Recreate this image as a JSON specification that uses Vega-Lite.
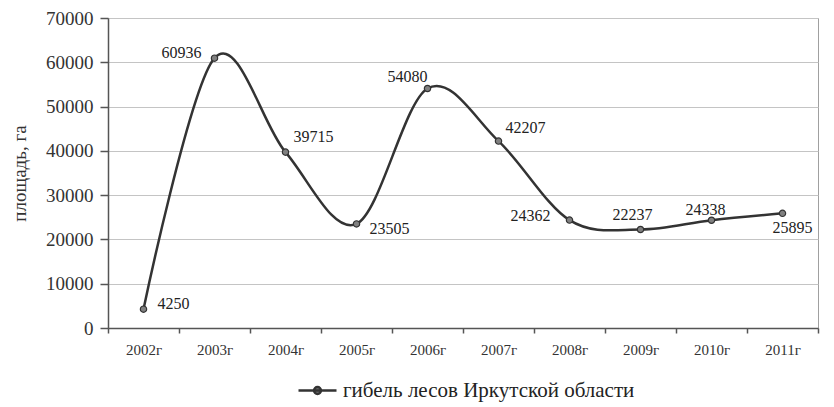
{
  "$schema": "https://vega.github.io/schema/vega-lite/v6.json",
  "width": 710,
  "height": 310,
  "autosize": "none",
  "padding": {"left": 108, "top": 18, "right": 16, "bottom": 79},
  "background": "white",
  "config": {
    "font": "Liberation Serif",
    "view": {"stroke": "#a0a0a0", "strokeWidth": 1}
  },
  "data": {
    "values": [
      {"year": "2002г", "v": 4250},
      {"year": "2003г", "v": 60936},
      {"year": "2004г", "v": 39715},
      {"year": "2005г", "v": 23505},
      {"year": "2006г", "v": 54080},
      {"year": "2007г", "v": 42207},
      {"year": "2008г", "v": 24362},
      {"year": "2009г", "v": 22237},
      {"year": "2010г", "v": 24338},
      {"year": "2011г", "v": 25895}
    ]
  },
  "encoding": {
    "x": {
      "field": "year",
      "type": "ordinal",
      "sort": null,
      "scale": {"type": "band", "paddingInner": 0, "paddingOuter": 0},
      "axis": {
        "title": null,
        "labelAngle": 0,
        "tickBand": "extent",
        "domainColor": "#555555",
        "domainWidth": 1.5,
        "tickColor": "#555555",
        "tickWidth": 1.5,
        "tickSize": 5,
        "labelPadding": 9,
        "labelFontSize": 15,
        "labelColor": "#333333",
        "grid": false
      }
    },
    "y": {
      "field": "v",
      "type": "quantitative",
      "scale": {"domain": [0, 70000]},
      "axis": {
        "title": "площадь, га",
        "titleFontSize": 19,
        "titleFontWeight": "normal",
        "titleColor": "#333333",
        "titlePadding": 16,
        "values": [0, 10000, 20000, 30000, 40000, 50000, 60000, 70000],
        "format": "d",
        "grid": true,
        "gridColor": "#c4c4c4",
        "domainColor": "#555555",
        "domainWidth": 1.5,
        "tickColor": "#555555",
        "tickWidth": 1.5,
        "tickSize": 8,
        "labelPadding": 7,
        "labelFontSize": 19,
        "labelColor": "#333333"
      }
    }
  },
  "layer": [
    {
      "mark": {"type": "line", "interpolate": "cardinal", "strokeWidth": 2.5},
      "encoding": {
        "color": {
          "datum": "гибель лесов Иркутской области",
          "scale": {"range": ["#333333"]},
          "legend": {
            "title": null,
            "orient": "none",
            "legendX": 189,
            "legendY": 352,
            "symbolType": "M-1,0L1,0M-0.18,0A0.18,0.18,0,1,1,0.18,0A0.18,0.18,0,1,1,-0.18,0Z",
            "symbolSize": 1444,
            "symbolStrokeWidth": 2.5,
            "symbolStrokeColor": "#333333",
            "symbolFillColor": "#777777",
            "labelFontSize": 21,
            "labelColor": "#222222",
            "labelOffset": 5,
            "labelLimit": 400,
            "padding": 0
          }
        }
      }
    },
    {
      "mark": {"type": "point", "filled": true, "fill": "#808080", "stroke": "#333333", "strokeWidth": 1.2, "size": 40, "opacity": 1}
    },
    {
      "transform": [{"filter": "datum.year == '2002г'"}],
      "mark": {"type": "text", "fontSize": 16, "color": "#222222", "align": "left", "baseline": "middle", "dx": 14, "dy": -5},
      "encoding": {"text": {"field": "v", "type": "quantitative", "format": "d"}}
    },
    {
      "transform": [{"filter": "datum.year == '2003г'"}],
      "mark": {"type": "text", "fontSize": 16, "color": "#222222", "align": "right", "baseline": "middle", "dx": -13, "dy": -5},
      "encoding": {"text": {"field": "v", "type": "quantitative", "format": "d"}}
    },
    {
      "transform": [{"filter": "datum.year == '2004г'"}],
      "mark": {"type": "text", "fontSize": 16, "color": "#222222", "align": "left", "baseline": "middle", "dx": 8, "dy": -15},
      "encoding": {"text": {"field": "v", "type": "quantitative", "format": "d"}}
    },
    {
      "transform": [{"filter": "datum.year == '2005г'"}],
      "mark": {"type": "text", "fontSize": 16, "color": "#222222", "align": "left", "baseline": "middle", "dx": 13, "dy": 5},
      "encoding": {"text": {"field": "v", "type": "quantitative", "format": "d"}}
    },
    {
      "transform": [{"filter": "datum.year == '2006г'"}],
      "mark": {"type": "text", "fontSize": 16, "color": "#222222", "align": "right", "baseline": "middle", "dx": 0, "dy": -12},
      "encoding": {"text": {"field": "v", "type": "quantitative", "format": "d"}}
    },
    {
      "transform": [{"filter": "datum.year == '2007г'"}],
      "mark": {"type": "text", "fontSize": 16, "color": "#222222", "align": "left", "baseline": "middle", "dx": 7, "dy": -13},
      "encoding": {"text": {"field": "v", "type": "quantitative", "format": "d"}}
    },
    {
      "transform": [{"filter": "datum.year == '2008г'"}],
      "mark": {"type": "text", "fontSize": 16, "color": "#222222", "align": "right", "baseline": "middle", "dx": -19, "dy": -4},
      "encoding": {"text": {"field": "v", "type": "quantitative", "format": "d"}}
    },
    {
      "transform": [{"filter": "datum.year == '2009г'"}],
      "mark": {"type": "text", "fontSize": 16, "color": "#222222", "align": "center", "baseline": "middle", "dx": -8, "dy": -15},
      "encoding": {"text": {"field": "v", "type": "quantitative", "format": "d"}}
    },
    {
      "transform": [{"filter": "datum.year == '2010г'"}],
      "mark": {"type": "text", "fontSize": 16, "color": "#222222", "align": "center", "baseline": "middle", "dx": -6, "dy": -10},
      "encoding": {"text": {"field": "v", "type": "quantitative", "format": "d"}}
    },
    {
      "transform": [{"filter": "datum.year == '2011г'"}],
      "mark": {"type": "text", "fontSize": 16, "color": "#222222", "align": "center", "baseline": "middle", "dx": 10, "dy": 15},
      "encoding": {"text": {"field": "v", "type": "quantitative", "format": "d"}}
    }
  ]
}
